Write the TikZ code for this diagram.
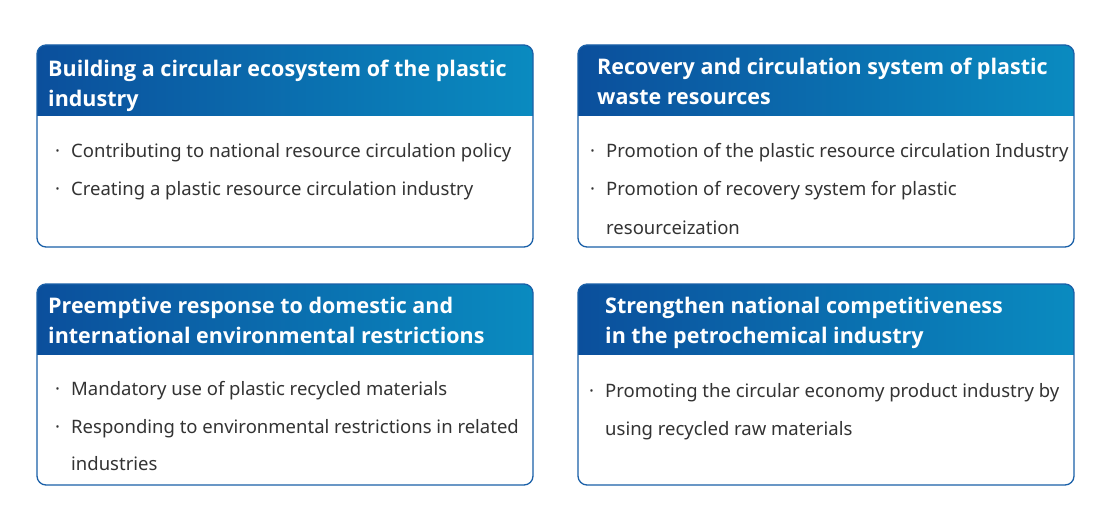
\documentclass[tikz,border=0pt]{standalone}
\usepackage{fontspec}
\setmainfont{Noto Sans}
\newfontfamily\ttlfont{Open Sans}
\definecolor{hdl}{HTML}{0B4F9C}
\definecolor{hdr}{HTML}{0A8BC0}
\definecolor{bord}{HTML}{1A60A8}
\definecolor{txt}{HTML}{333333}
\tikzset{
 ttl/.style={anchor=base west,inner sep=0pt,text=white,font=\ttlfont\fontsize{21.5}{24}\selectfont\bfseries},
 itm/.style={anchor=base west,inner sep=0pt,text=txt,font=\fontsize{18.5}{20}\selectfont},
 dotm/.style={anchor=base west,inner sep=0pt,text=txt,font=\fontsize{18.5}{20}\selectfont\bfseries},
}
\newcommand{\panel}[5]{% x1 y1 x2 y2 hy
 \begin{scope}
 \clip[rounded corners=9pt] (#1,#2) rectangle (#3,#4);
 \shade[left color=hdl,right color=hdr] (#1,#2) rectangle (#3,#5);
 \end{scope}
 \draw[bord,line width=1.3pt,rounded corners=9pt] (#1,#2) rectangle (#3,#4);
}
\begin{document}
\begin{tikzpicture}[x=1pt,y=-1pt]
\useasboundingbox[fill=white] (0,0) rectangle (1100,513);
\panel{37}{45}{533}{247}{116}
\panel{578}{45}{1074}{247}{116}
\panel{37}{284}{533}{485}{354}
\panel{578}{284}{1074}{485}{354}
\node[ttl] (t1a) at (48,77) {Building a circular ecosystem of the plastic};
\node[ttl] (t1b) at (48,107) {industry};
\node[ttl] (t2a) at (597,75) {Recovery and circulation system of plastic};
\node[ttl] (t2b) at (597,105) {waste resources};
\node[ttl] (t3a) at (48,313) {Preemptive response to domestic and};
\node[ttl] (t3b) at (48,343) {international environmental restrictions};
\node[ttl] (t4a) at (605,313) {Strengthen national competitiveness};
\node[ttl] (t4b) at (605,343) {in the petrochemical industry};
\node[dotm] (b1a) at (55,158) {·};
\node[itm] (i1a) at (71,158) {Contributing to national resource circulation policy};
\node[dotm] (b1b) at (55,196) {·};
\node[itm] (i1b) at (71,196) {Creating a plastic resource circulation industry};
\node[dotm] (b2a) at (590,158) {·};
\node[itm] (i2a) at (606,158) {Promotion of the plastic resource circulation Industry};
\node[dotm] (b2b) at (590,196) {·};
\node[itm] (i2b) at (606,196) {Promotion of recovery system for plastic};
\node[itm] (i2c) at (606,234) {resourceization};
\node[dotm] (b3a) at (55,395) {·};
\node[itm] (i3a) at (71,395) {Mandatory use of plastic recycled materials};
\node[dotm] (b3b) at (55,433) {·};
\node[itm] (i3b) at (71,433) {Responding to environmental restrictions in related};
\node[itm] (i3c) at (71,470) {industries};
\node[dotm] (b4a) at (589,397) {·};
\node[itm] (i4a) at (605,397) {Promoting the circular economy product industry by};
\node[itm] (i4b) at (605,435) {using recycled raw materials};
\end{tikzpicture}
\end{document}
